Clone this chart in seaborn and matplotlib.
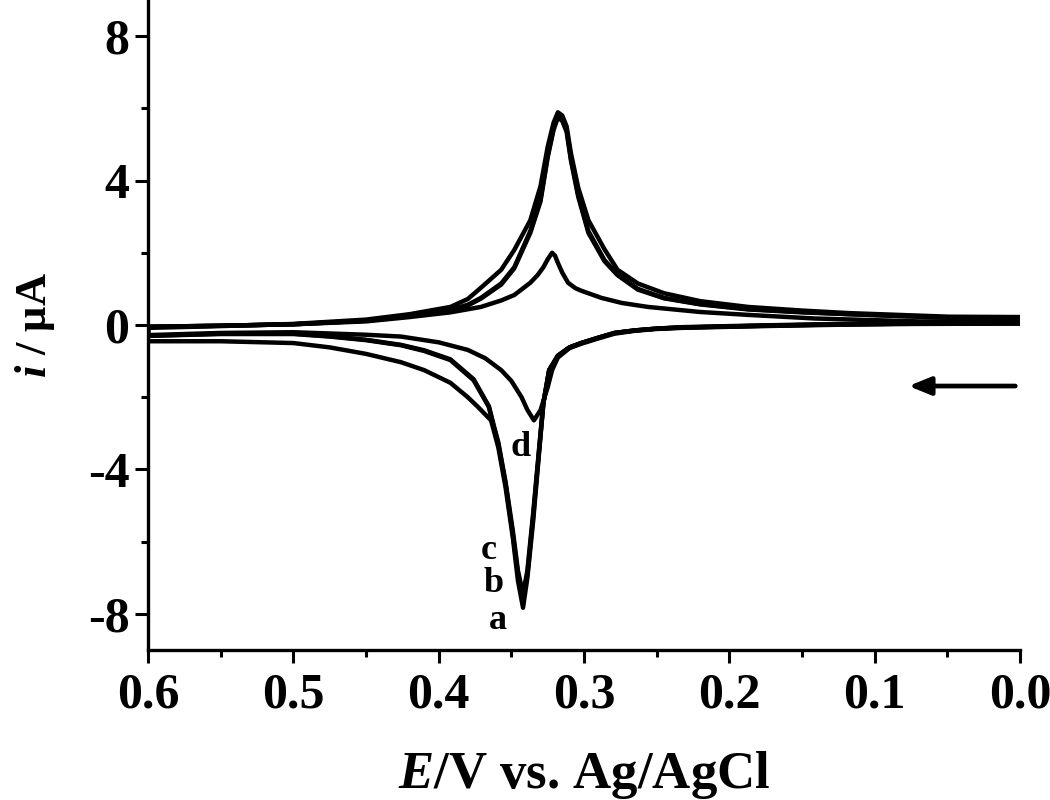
import numpy as np
import pandas as pd
import seaborn as sns
import matplotlib.pyplot as plt

# cyclic voltammograms a-d
# each loop: forward branch 0.0 -> 0.6 V, then back 0.6 -> 0.0 V
E_a = [0.0, 0.072, 0.12, 0.164, 0.2, 0.233, 0.25, 0.265, 0.279, 0.29, 0.302, 0.310, 0.318, 0.324, 0.328,
       0.331, 0.335, 0.339, 0.342, 0.3455, 0.349, 0.354, 0.359, 0.364, 0.373, 0.38, 0.392, 0.41, 0.426,
       0.45, 0.475, 0.5, 0.55, 0.6,
       0.6, 0.55, 0.5, 0.45, 0.42, 0.392, 0.38, 0.371, 0.357, 0.348, 0.337, 0.330, 0.325, 0.321, 0.318,
       0.315, 0.312, 0.309, 0.304, 0.297, 0.286, 0.277, 0.263, 0.245, 0.22, 0.187, 0.15, 0.118, 0.049, 0.0]
i_a = [0.05, 0.05, 0.03, 0.0, -0.03, -0.06, -0.1, -0.15, -0.22, -0.35, -0.5, -0.62, -0.85, -1.25, -2.17,
       -3.56, -5.42, -7.0, -7.83, -7.08, -5.89, -4.5, -3.39, -2.64, -2.27, -2.0, -1.6, -1.25, -1.03,
       -0.8, -0.62, -0.5, -0.45, -0.45,
       -0.08, -0.03, 0.03, 0.15, 0.3, 0.5, 0.72, 1.03, 1.53, 2.08, 2.9, 3.84, 4.94, 5.6, 5.89,
       5.8, 5.5, 4.75, 3.8, 2.9, 2.1, 1.53, 1.15, 0.88, 0.66, 0.5, 0.4, 0.33, 0.23, 0.22]

E_b = [0.0, 0.072, 0.12, 0.164, 0.2, 0.233, 0.25, 0.265, 0.279, 0.29, 0.302, 0.310, 0.318, 0.324, 0.328,
       0.331, 0.335, 0.339, 0.342, 0.3455, 0.349, 0.354, 0.359, 0.362, 0.3655, 0.376, 0.392, 0.41, 0.426,
       0.45, 0.475, 0.5, 0.55, 0.6,
       0.6, 0.55, 0.5, 0.45, 0.42, 0.392, 0.38, 0.371, 0.357, 0.348, 0.337, 0.330, 0.325, 0.321, 0.318,
       0.315, 0.312, 0.309, 0.304, 0.297, 0.286, 0.277, 0.263, 0.245, 0.22, 0.187, 0.15, 0.118, 0.049, 0.0]
i_b = [0.05, 0.04, 0.02, -0.01, -0.04, -0.07, -0.1, -0.15, -0.22, -0.35, -0.5, -0.62, -0.85, -1.25, -2.17,
       -3.5, -5.3, -6.9, -7.6, -6.9, -5.8, -4.4, -3.3, -2.85, -2.27, -1.53, -0.97, -0.72, -0.56,
       -0.42, -0.32, -0.25, -0.25, -0.3,
       -0.05, -0.02, 0.02, 0.12, 0.25, 0.42, 0.56, 0.75, 1.15, 1.6, 2.6, 3.47, 4.7, 5.45, 5.8,
       5.7, 5.4, 4.6, 3.6, 2.6, 1.8, 1.4, 1.0, 0.75, 0.58, 0.44, 0.36, 0.3, 0.2, 0.18]

E_c = [0.0, 0.072, 0.12, 0.164, 0.2, 0.233, 0.25, 0.265, 0.279, 0.29, 0.302, 0.310, 0.318, 0.324, 0.328,
       0.331, 0.335, 0.339, 0.342, 0.3455, 0.349, 0.354, 0.359, 0.362, 0.3655, 0.376, 0.392, 0.41, 0.426,
       0.45, 0.475, 0.5, 0.55, 0.6,
       0.6, 0.55, 0.5, 0.45, 0.42, 0.392, 0.38, 0.371, 0.357, 0.348, 0.337, 0.330, 0.325, 0.321, 0.318,
       0.315, 0.312, 0.309, 0.304, 0.297, 0.286, 0.277, 0.263, 0.245, 0.22, 0.187, 0.15, 0.118, 0.049, 0.0]
i_c = [0.05, 0.04, 0.02, -0.01, -0.04, -0.07, -0.1, -0.15, -0.22, -0.35, -0.5, -0.62, -0.85, -1.25, -2.15,
       -3.45, -5.2, -6.8, -7.45, -6.8, -5.7, -4.35, -3.25, -2.8, -2.25, -1.5, -0.95, -0.7, -0.55,
       -0.41, -0.31, -0.24, -0.24, -0.3,
       -0.05, -0.02, 0.02, 0.12, 0.24, 0.41, 0.54, 0.73, 1.12, 1.57, 2.55, 3.42, 4.65, 5.4, 5.75,
       5.65, 5.35, 4.55, 3.55, 2.55, 1.77, 1.38, 0.98, 0.74, 0.57, 0.43, 0.35, 0.3, 0.2, 0.18]

E_d = [0.0, 0.072, 0.12, 0.164, 0.2, 0.233, 0.25, 0.265, 0.279, 0.29, 0.302, 0.310, 0.318, 0.322, 0.325,
       0.330, 0.3345, 0.339, 0.343, 0.35, 0.357, 0.368, 0.38, 0.4, 0.426, 0.45, 0.5, 0.55, 0.6,
       0.6, 0.55, 0.5, 0.45, 0.42, 0.392, 0.371, 0.357, 0.348, 0.337, 0.332, 0.328, 0.325, 0.322,
       0.320, 0.318, 0.315, 0.311, 0.306, 0.302, 0.288, 0.274, 0.256, 0.22, 0.187, 0.141, 0.07, 0.0]
i_d = [0.04, 0.03, 0.01, -0.02, -0.05, -0.08, -0.11, -0.16, -0.24, -0.37, -0.52, -0.64, -0.9, -1.25, -1.72,
       -2.36, -2.64, -2.35, -2.0, -1.55, -1.25, -0.92, -0.69, -0.48, -0.32, -0.27, -0.2, -0.22, -0.28,
       -0.05, -0.02, 0.02, 0.1, 0.22, 0.35, 0.5, 0.68, 0.83, 1.17, 1.38, 1.6, 1.82, 2.0,
       1.92, 1.72, 1.45, 1.17, 1.02, 0.95, 0.75, 0.61, 0.5, 0.36, 0.28, 0.18, 0.1, 0.08]

curve_names = ["a", "b", "c", "d"]
E_all = [E_a, E_b, E_c, E_d]
i_all = [i_a, i_b, i_c, i_d]

# label positions (E, i) for the curve letters
label_E = [0.3593, 0.362, 0.3655, 0.3434]
label_i = [-8.19, -7.17, -6.25, -3.39]

frames = []
for name, E, cur in zip(curve_names, E_all, i_all):
    frames.append(pd.DataFrame({"E": E, "i": cur, "curve": name, "step": np.arange(len(E))}))
df = pd.concat(frames, ignore_index=True)

sns.set_theme(style="ticks")
plt.rcParams["font.family"] = ["Liberation Serif", "DejaVu Serif"]
plt.rcParams["font.weight"] = "bold"
plt.rcParams["axes.unicode_minus"] = False
plt.rcParams["mathtext.fontset"] = "custom"
plt.rcParams["mathtext.it"] = "Liberation Serif:italic:bold"
plt.rcParams["mathtext.rm"] = "Liberation Serif:bold"
for key in ["text.color", "axes.labelcolor", "xtick.color", "ytick.color", "axes.edgecolor"]:
    plt.rcParams[key] = "black"

fig = plt.figure(figsize=(10.5, 8), dpi=100)
ax = fig.add_axes([0.141, 0.1875, 0.8305, 0.8125])

sns.lineplot(
    data=df,
    x="E",
    y="i",
    units="curve",
    estimator=None,
    sort=False,
    color="black",
    linewidth=3.2,
    ax=ax,
)
for line in ax.get_lines():
    line.set_solid_joinstyle("round")
    line.set_solid_capstyle("round")

for name, xe, yi in zip(curve_names, label_E, label_i):
    ax.text(xe, yi, name, fontsize=26, fontweight="bold", ha="center", va="center")

# scan direction arrow
ax.annotate(
    "",
    xy=(0.0786, -1.69),
    xytext=(0.0014, -1.69),
    arrowprops=dict(arrowstyle="-|>,head_length=1.1,head_width=0.45", color="black", lw=3.4),
)

ax.set_xlim(0.6, 0.0)
ax.set_ylim(-9, 9)
ax.set_xticks([0.6, 0.5, 0.4, 0.3, 0.2, 0.1, 0.0])
ax.set_xticklabels(["0.6", "0.5", "0.4", "0.3", "0.2", "0.1", "0.0"])
ax.set_xticks(np.arange(0.05, 0.6, 0.1), minor=True)
ax.set_yticks([-8, -4, 0, 4, 8])
ax.set_yticks([-6, -2, 2, 6], minor=True)

sns.despine(ax=ax)
for side in ["left", "bottom"]:
    ax.spines[side].set_linewidth(2.4)
ax.tick_params(axis="both", which="major", length=9.5, width=2.2, labelsize=36)
ax.tick_params(axis="both", which="minor", length=5, width=2.2)
ax.tick_params(axis="x", which="major", pad=7)
ax.tick_params(axis="y", which="major", pad=4)

ax.set_xlabel(r"$E$/V vs. Ag/AgCl", fontsize=38, fontweight="bold", labelpad=22)
ax.set_ylabel(r"$i$ / μA", fontsize=32, fontweight="bold", labelpad=22)

fig.savefig("out.png", dpi=100)
